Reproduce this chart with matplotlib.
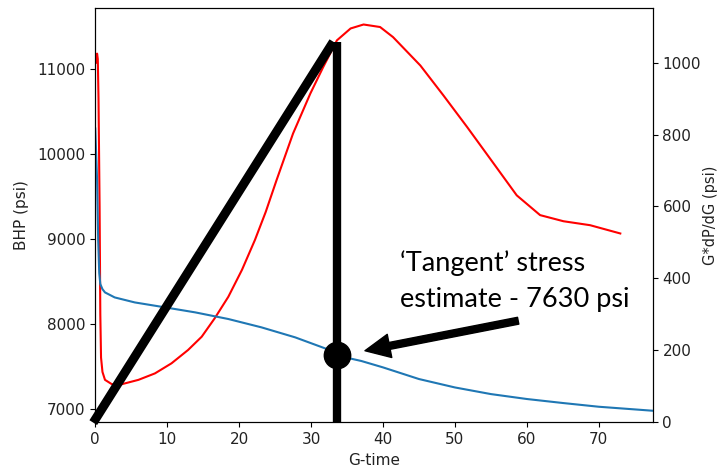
import numpy as np
import matplotlib
matplotlib.use("Agg")
import matplotlib.pyplot as plt

# BHP vs G-time (left axis)
g_bhp = [0.0, 0.25, 0.4, 0.55, 0.7, 1.0, 1.35, 2.7, 5.5, 9.2, 13.9, 18.5,
         23.1, 27.8, 32.2, 33.6, 37.0, 40.0, 45.0, 50.0, 55.0, 60.0,
         65.0, 70.0, 77.5]
bhp = [10300, 9700, 9000, 8600, 8470, 8410, 8372, 8313, 8254, 8203, 8137, 8059,
       7961, 7843, 7706, 7630, 7565, 7490, 7353, 7254, 7176, 7118,
       7071, 7027, 6980]

# G*dP/dG vs G-time (right axis)
g_der = [0.15, 0.25, 0.35, 0.45, 0.6, 0.7, 0.8, 1.0, 1.35, 2.3, 3.7, 6.0, 8.3,
         10.6, 12.9, 14.8, 16.6, 18.5, 20.4, 22.2, 23.7, 25.2, 27.5, 29.9, 31.7,
         33.6, 35.5, 37.3, 39.6, 41.4, 45.2, 48.4, 51.7, 54.9, 58.6, 61.85,
         65.1, 68.8, 73.0]
gdpdg = [1000, 1025, 1010, 900, 600, 300, 180, 140, 118, 106, 106, 118, 136,
         164, 201, 238, 289, 349, 424, 507, 585, 673, 803, 914, 988,
         1062, 1095, 1106, 1099, 1071, 992, 909, 821, 733, 631, 576,
         559, 548, 525]

# hand-drawn tangent construction (left-axis units)
tangent_g = [-0.28, 33.1]
tangent_p = [6840, 11321]
closure_g = 33.57
closure_p = 7630
note_lines = ["\u2018Tangent\u2019 stress", "estimate - 7630 psi"]

fig = plt.figure(figsize=(7.18, 4.70), dpi=100)
ax = fig.add_axes([0.1327, 0.1015, 0.909 - 0.1327, 0.9823 - 0.1015])
ax2 = ax.twinx()

ax.plot(g_bhp, bhp, color='#1f77b4', lw=1.5)
ax2.plot(g_der, gdpdg, color='red', lw=1.5)

ax.set_xlim(0, 77.5)
ax.set_ylim(6844, 11714)
ax2.set_ylim(0, 1151)
ax.set_yticks([7000, 8000, 9000, 10000, 11000])
ax2.set_yticks([0, 200, 400, 600, 800, 1000])
ax.set_xticks(range(0, 80, 10))

ax.set_xlabel('G-time', fontsize=11, color='#222222')
ax.set_ylabel('BHP (psi)', fontsize=11, labelpad=6, color='#222222')
ax2.set_ylabel('G*dP/dG (psi)', fontsize=10.5, labelpad=1.5, color='#222222')
ax.tick_params(labelsize=11, labelcolor='#222222')
ax2.tick_params(labelsize=11, labelcolor='#222222')

# black overlay drawn on the left axis
ax.set_zorder(ax2.get_zorder() + 1)
ax.patch.set_visible(False)
ax.plot(tangent_g, tangent_p, color='black', lw=6.5, solid_capstyle='butt', clip_on=False)
ax.plot([closure_g, closure_g], [6844, 11318], color='black', lw=6, solid_capstyle='butt')
ax.plot([closure_g], [closure_p], 'o', color='black', markersize=19)

ax.annotate('', xy=(37.5, 7686), xytext=(58.8, 8039),
            arrowprops=dict(facecolor='black', edgecolor='black',
                            width=5, headwidth=17, headlength=18))

ax.text(42.4, 8627, note_lines[0], fontsize=19.5, family='Lato', va='baseline')
ax.text(42.4, 8195, note_lines[1], fontsize=19.5, family='Lato', va='baseline')

fig.savefig('out.png', dpi=100)
